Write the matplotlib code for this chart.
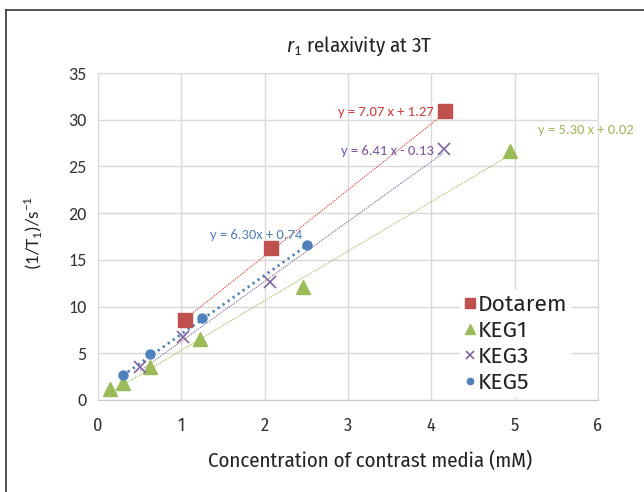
import numpy as np
import matplotlib
matplotlib.use('Agg')
import matplotlib.pyplot as plt
from matplotlib.lines import Line2D

narrow = ['Fira Sans Condensed', 'DejaVu Sans']
calib = ['Carlito', 'DejaVu Sans']
plt.rcParams['font.family'] = narrow
plt.rcParams['mathtext.fontset'] = 'custom'
plt.rcParams['mathtext.rm'] = 'Carlito'
plt.rcParams['mathtext.it'] = 'Fira Sans Condensed:italic'

# Data
dotarem_x = [1.04, 2.08, 4.17]
dotarem_y = [8.57, 16.27, 30.9]
keg1_x = [0.15, 0.30, 0.62, 1.23, 2.46, 4.94]
keg1_y = [1.15, 1.86, 3.48, 6.49, 12.08, 26.7]
keg3_x = [0.51, 1.02, 2.06, 4.15]
keg3_y = [3.48, 6.70, 12.6, 26.85]
keg5_x = [0.30, 0.62, 1.25, 2.51]
keg5_y = [2.69, 4.91, 8.78, 16.6]

# trendline coefficients (slope, intercept) as printed
fits = {
    'Dotarem': (7.07, 1.27),
    'KEG1': (5.30, 0.02),
    'KEG3': (6.41, -0.13),
    'KEG5': (6.30, 0.74),
}
eq_labels = {
    'Dotarem': 'y = 7.07 x + 1.27',
    'KEG1': 'y = 5.30 x + 0.02',
    'KEG3': 'y = 6.41 x - 0.13',
    'KEG5': 'y = 6.30x + 0.74',
}
x_ticks = [0, 1, 2, 3, 4, 5, 6]
y_ticks = [0, 5, 10, 15, 20, 25, 30, 35]

red = '#C0504D'
green = '#9BBB59'
purple = '#8064A2'
blue = '#4F81BD'

fig = plt.figure(figsize=(6.44, 4.92), dpi=100)
ax = fig.add_axes([0.152, 0.187, 0.7764, 0.6646])


# trendlines over each data range
def trend(xs, key, color, lw, ls):
    m, b = fits[key]
    xx = np.array([min(xs), max(xs)])
    ax.plot(xx, m * xx + b, color=color, lw=lw, ls=ls, zorder=2)


trend(dotarem_x, 'Dotarem', '#E0403C', 0.8, (0, (1, 1)))
trend(keg1_x, 'KEG1', green, 0.8, (0, (1, 1)))
trend(keg3_x, 'KEG3', purple, 0.8, (0, (1, 1)))
trend(keg5_x, 'KEG5', blue, 2.0, (0, (0.8, 1.4)))

ax.plot(dotarem_x, dotarem_y, 's', color=red, ms=9.5, ls='none', label='Dotarem', zorder=3)
ax.plot(keg1_x, keg1_y, '^', color=green, ms=10, ls='none', label='KEG1', zorder=3)
ax.plot(keg3_x, keg3_y, 'x', color=purple, ms=9, mew=1.2, ls='none', label='KEG3', zorder=3)
ax.plot(keg5_x, keg5_y, 'o', color=blue, ms=6.5, ls='none', label='KEG5', zorder=3)

# equation labels
eq_kw = dict(fontsize=10.5, family=calib, va='center')
ax.text(4.03, 30.8, eq_labels['Dotarem'], color='#D03A36', ha='right', **eq_kw)
ax.text(4.03, 26.6, eq_labels['KEG3'], color='#7A52A8', ha='right', **eq_kw)
ax.text(5.28, 28.9, eq_labels['KEG1'], color=green, ha='left', clip_on=False, **eq_kw)
ax.text(1.35, 17.7, eq_labels['KEG5'], color='#4F81BD', ha='left', **eq_kw)

ax.set_xlim(0, 6)
ax.set_ylim(0, 35)
ax.set_xticks(x_ticks)
ax.set_yticks(y_ticks)
ax.tick_params(length=0, colors='#333333')
ax.tick_params(axis='x', labelsize=13, pad=12)
ax.tick_params(axis='y', labelsize=13, pad=8)
for t in ax.get_yticklabels():
    t.set_family(calib)
ax.grid(True, color='#D9D9D9', lw=1)
ax.set_axisbelow(True)
for s in ax.spines.values():
    s.set_color('#D9D9D9')
ax.spines['bottom'].set_color('#C8C8C8')

leg = ax.legend(loc='upper left', bbox_to_anchor=(0.725, 0.335),
                prop={'family': ['Fira Sans', 'DejaVu Sans'], 'size': 16.5},
                frameon=True, handletextpad=0.1, handlelength=0.5, borderpad=0.15,
                labelspacing=0.2, borderaxespad=0, markerscale=0.7)
leg.get_frame().set_edgecolor('none')
leg.get_frame().set_facecolor('white')
leg.get_frame().set_alpha(1)
leg.get_frame().set_boxstyle('square', pad=0)
for t in leg.get_texts():
    t.set_color('#222222')

fig.text(0.558, 0.907, r'$\mathit{r}_1$ relaxivity at 3T', ha='center', va='center',
         fontsize=15, color='#222222')
fig.text(0.5745, 0.063, 'Concentration of contrast media (mM)', ha='center', va='center',
         fontsize=15, color='#222222')
fig.text(0.052, 0.526, r'(1/T$_1$)/s$^{-1}$', ha='center', va='center', rotation=90,
         fontsize=13.5, family=calib, color='#222222')

# outer frame lines (top and left)
fig.add_artist(Line2D([0.009, 1.0], [0.980, 0.980], color='#333333', lw=1.2))
fig.add_artist(Line2D([0.009, 0.009], [0.0, 0.980], color='#333333', lw=1.2))

fig.savefig('out.png', dpi=100)
